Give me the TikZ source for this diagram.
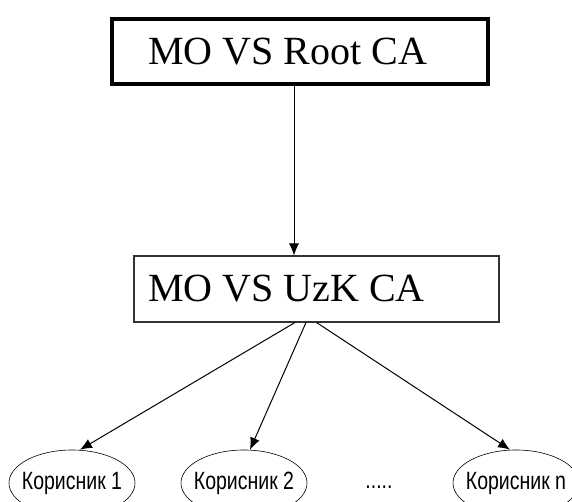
\documentclass[tikz,border=0pt]{standalone}
\usepackage{fontspec}
\setmainfont{Liberation Serif}
\newfontfamily\usrfont[FakeStretch=0.78]{Liberation Sans}
\usetikzlibrary{arrows.meta,shapes.geometric}

\tikzset{
    cabox/.style={draw, rectangle, align=flush left, inner ysep=0pt, minimum height=65pt,
        font=\fontsize{40}{48}\selectfont},
    user/.style={draw, ellipse, line width=0.6pt, inner xsep=-14pt, inner ysep=0pt, minimum width=126pt,
        minimum height=66pt, font=\usrfont\fontsize{25}{28}\selectfont},
    arr/.style={-{Latex[length=12pt,width=10pt]}, line width=1pt}
}

\begin{document}
\begin{tikzpicture}[x=1pt,y=-1pt]
        \useasboundingbox (0,0) rectangle (572,502);

        \node[cabox, line width=3.5pt, inner xsep=36pt, text width=304pt] (root) at (300,51.5) {MO VS Root CA};
        \node[cabox, line width=2pt, inner xsep=14pt, text width=337pt, draw=black!80] (uzk) at (316.5,289) {MO VS UzK CA};

        \node[user] (u1) at (72,483) {Корисник 1};
        \node[user] (u2) at (244,483) {Корисник 2};
        \node[font=\usrfont\fontsize{25}{28}\selectfont] (dots) at (379,487) {.....};
        \node[user] (un) at (516,483) {Корисник n};

        \draw[arr] ([xshift=-6pt]root.south) -- ([xshift=-6pt]root.south |- uzk.north);

        \draw[arr] ([xshift=-21.5pt]uzk.south) -- ([xshift=8pt]u1.north);
        \draw[arr] ([xshift=-10.5pt]uzk.south) -- ([xshift=6pt]u2.north);
        \draw[arr] (uzk.south) -- ([xshift=-6pt]un.north);
\end{tikzpicture}
\end{document}
